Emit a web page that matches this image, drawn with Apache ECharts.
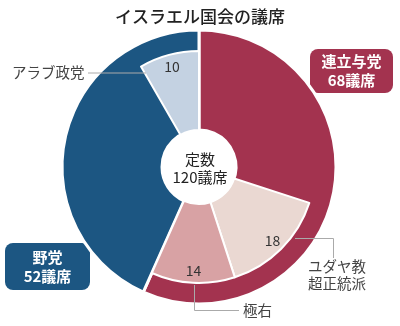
<!DOCTYPE html>
<html>
<head>
<meta charset="utf-8">
<script src="https://cdn.jsdelivr.net/npm/echarts@6/dist/echarts.min.js"></script>
<style>
  html, body { margin: 0; padding: 0; background: #fff; }
  #chart { width: 400px; height: 326px; }
</style>
</head>
<body>
<div id="chart"></div>
<script>
// Seats in the Knesset: two blocs, with notable groups inside each bloc
const blocNames = ['連立与党', '野党'];
const blocSeats = [68, 52];
const coalitionGroups = ['ユダヤ教超正統派', '極右'];
const coalitionGroupSeats = [18, 14];
const oppositionGroups = ['アラブ政党'];
const oppositionGroupSeats = [10];
const totalSeats = 120;

const FONT = '"Noto Sans CJK JP", "Noto Sans", sans-serif';
const RED = '#a3334f';
const BLUE = '#1c5682';
const groupColors = {
  'ユダヤ教超正統派': '#ead8d2',
  '極右': '#d8a2a4',
  'アラブ政党': '#c4d2e2'
};

const sum = a => a.reduce((s, v) => s + v, 0);

// Inner ring, clockwise from 12 o'clock: uncovered coalition part, coalition groups,
// uncovered opposition part, opposition groups
const innerData = [
  { name: 'rest-c', value: blocSeats[0] - sum(coalitionGroupSeats), hidden: true },
  ...coalitionGroups.map((n, i) => ({ name: n, value: coalitionGroupSeats[i] })),
  { name: 'rest-o', value: blocSeats[1] - sum(oppositionGroupSeats), hidden: true },
  ...oppositionGroups.map((n, i) => ({ name: n, value: oppositionGroupSeats[i] }))
];

const center = [199, 167];

const chart = echarts.init(document.getElementById('chart'), null, { renderer: 'canvas' });
chart.setOption({
  backgroundColor: '#fff',
  animation: false,
  title: {
    text: 'イスラエル国会の議席',
    left: 'center',
    top: 3,
    textStyle: { fontFamily: FONT, fontSize: 17, fontWeight: 500, color: '#222' }
  },
  series: [
    {
      type: 'pie',
      center: center,
      radius: [37, 137],
      startAngle: 90,
      silent: true,
      label: { show: false },
      labelLine: { show: false },
      itemStyle: { borderColor: '#fff', borderWidth: 3 },
      data: blocNames.map((n, i) => ({
        name: n, value: blocSeats[i],
        itemStyle: { color: i === 0 ? RED : BLUE }
      }))
    },
    {
      type: 'pie',
      center: center,
      radius: [37, 116],
      startAngle: 90,
      silent: true,
      label: { show: false },
      labelLine: { show: false },
      data: innerData.map(d => ({
        name: d.name, value: d.value,
        itemStyle: d.hidden
          ? { color: 'rgba(0,0,0,0)', borderWidth: 0 }
          : { color: groupColors[d.name], borderColor: '#fff', borderWidth: 2 }
      }))
    },
    {
      // value labels for the groups, placed near the outer part of the inner ring
      type: 'pie',
      center: center,
      radius: [86, 116],
      startAngle: 90,
      silent: true,
      labelLine: { show: false },
      label: {
        show: true,
        position: 'inside',
        fontFamily: FONT,
        fontSize: 14,
        color: '#333',
        formatter: p => (p.data.hidden ? '' : String(p.value))
      },
      data: innerData.map(d => ({
        name: d.name, value: d.value, hidden: !!d.hidden,
        itemStyle: { color: 'rgba(0,0,0,0)' }
      }))
    }
  ],
  graphic: [
    // centre note
    {
      type: 'text', left: 'center', top: 150, z: 10,
      style: {
        text: '定数\n' + totalSeats + '議席',
        fontFamily: FONT, fontSize: 15, lineHeight: 18,
        fill: '#222', textAlign: 'center'
      },
      x: 0
    },
    // bloc badges
    {
      type: 'group', left: 310, top: 49, z: 10,
      children: [
        { type: 'rect', shape: { x: 0, y: 0, width: 83, height: 44, r: 8 }, style: { fill: RED } },
        {
          type: 'text', x: 41.5, y: 22,
          style: {
            text: blocNames[0] + '\n' + blocSeats[0] + '議席',
            fontFamily: FONT, fontSize: 15, fontWeight: 'bold', lineHeight: 19,
            fill: '#fff', align: 'center', verticalAlign: 'middle'
          }
        }
      ]
    },
    {
      type: 'group', left: 5, top: 243, z: 10,
      children: [
        { type: 'rect', shape: { x: 0, y: 0, width: 85, height: 47, r: 8 }, style: { fill: BLUE } },
        {
          type: 'text', x: 42.5, y: 23.5,
          style: {
            text: blocNames[1] + '\n' + blocSeats[1] + '議席',
            fontFamily: FONT, fontSize: 15, fontWeight: 'bold', lineHeight: 19,
            fill: '#fff', align: 'center', verticalAlign: 'middle'
          }
        }
      ]
    },
    // group name callouts
    {
      type: 'text', x: 12, y: 72, z: 10,
      style: { text: oppositionGroups[0], fontFamily: FONT, fontSize: 14.5, fill: '#444', verticalAlign: 'middle' }
    },
    {
      type: 'polyline', z: 10,
      shape: { points: [[88, 73], [146, 73]] },
      style: { stroke: '#aaa', lineWidth: 1, fill: null }
    },
    {
      type: 'text', x: 308, y: 275, z: 10,
      style: {
        text: 'ユダヤ教\n超正統派',
        fontFamily: FONT, fontSize: 14.5, lineHeight: 17, fill: '#444', verticalAlign: 'middle'
      }
    },
    {
      type: 'polyline', z: 10,
      shape: { points: [[295, 238.5], [333.5, 238.5], [333.5, 258]] },
      style: { stroke: '#aaa', lineWidth: 1, fill: null }
    },
    {
      type: 'text', x: 243, y: 310, z: 10,
      style: { text: coalitionGroups[1], fontFamily: FONT, fontSize: 14.5, fill: '#444', verticalAlign: 'middle' }
    },
    {
      type: 'polyline', z: 10,
      shape: { points: [[194.5, 285], [194.5, 310.5], [239, 310.5]] },
      style: { stroke: '#aaa', lineWidth: 1, fill: null }
    }
  ]
});
</script>
</body>
</html>
